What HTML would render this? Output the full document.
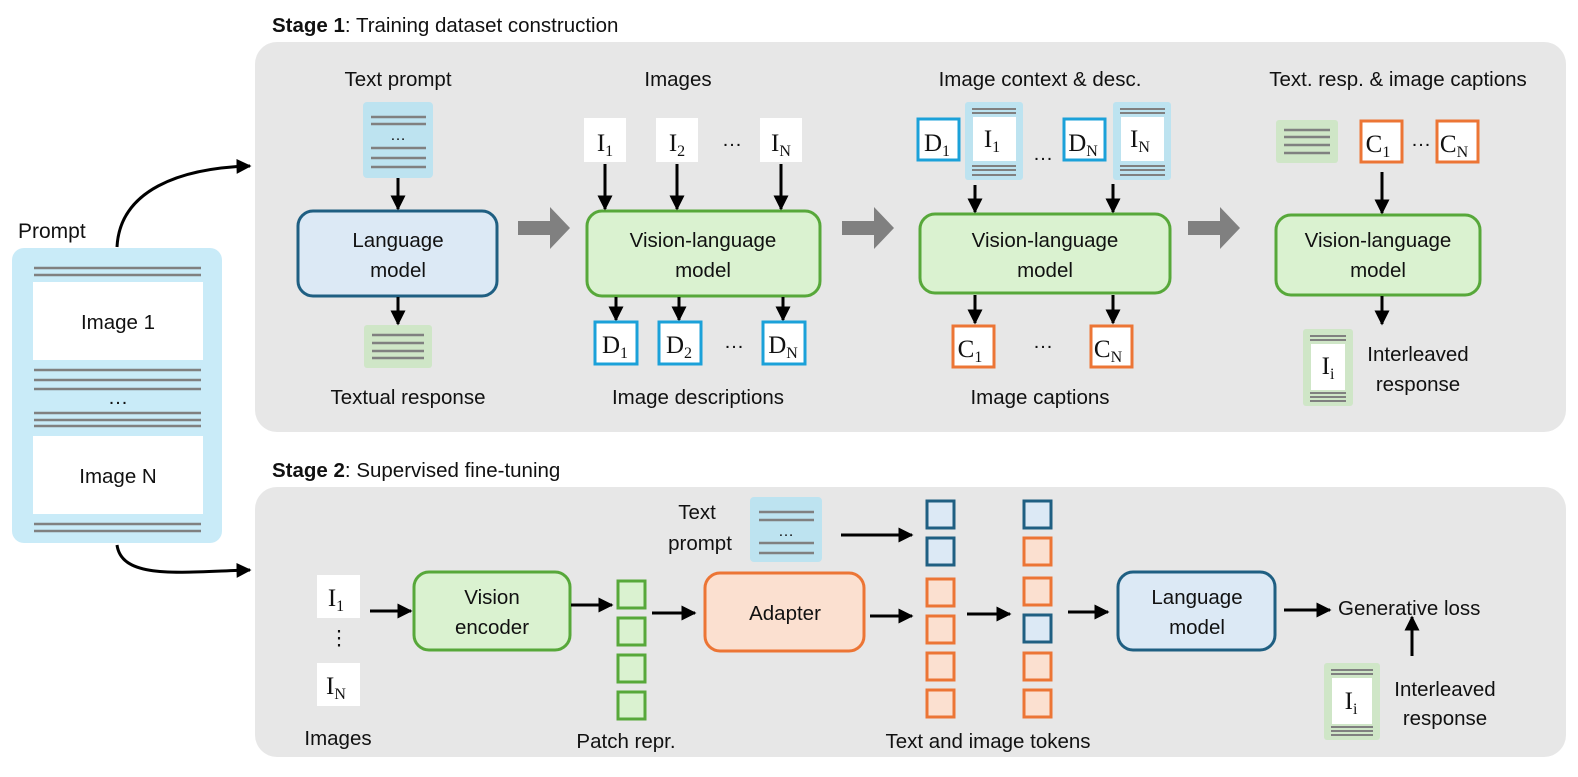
<!DOCTYPE html>
<html><head><meta charset="utf-8"><style>
body{margin:0;background:#fff}
svg{display:block}
text{font-family:"Liberation Sans",sans-serif;font-size:20.5px;fill:#111}
.c{text-anchor:middle}
.m{font-family:"Liberation Serif",serif;font-size:25px}
.s{font-size:16px}
</style></head><body>
<svg width="1578" height="777" viewBox="0 0 1578 777" xmlns="http://www.w3.org/2000/svg">
<defs>
<marker id="a" viewBox="0 0 10 10" refX="9" refY="5" markerWidth="5" markerHeight="5" orient="auto" markerUnits="strokeWidth"><path d="M0,0L10,5L0,10z" fill="#000"/></marker>
</defs>
<rect x="255" y="42" width="1311" height="390" rx="22" fill="#e7e7e7"/>
<rect x="255" y="487" width="1311" height="270" rx="22" fill="#e7e7e7"/>
<text x="272" y="32"><tspan font-weight="bold">Stage 1</tspan>: Training dataset construction</text>
<text x="272" y="477"><tspan font-weight="bold">Stage 2</tspan>: Supervised fine-tuning</text>

<text x="18" y="238" style="font-size:21px">Prompt</text>
<rect x="12" y="248" width="210" height="295" rx="12" fill="#c9ebf8"/>
<g stroke="#808080" stroke-width="2.5">
<line x1="34" y1="268" x2="201" y2="268"/><line x1="34" y1="275" x2="201" y2="275"/>
<line x1="34" y1="370" x2="201" y2="370"/><line x1="34" y1="380" x2="201" y2="380"/><line x1="34" y1="389" x2="201" y2="389"/>
<line x1="34" y1="413" x2="201" y2="413"/><line x1="34" y1="420" x2="201" y2="420"/><line x1="34" y1="426" x2="201" y2="426"/>
<line x1="34" y1="524" x2="201" y2="524"/><line x1="34" y1="531" x2="201" y2="531"/>
</g>
<rect x="33" y="282" width="170" height="78" fill="#fff"/>
<rect x="33" y="436" width="170" height="78" fill="#fff"/>
<text x="118" y="329" class="c">Image 1</text>
<text x="118" y="483" class="c">Image N</text>
<text x="118" y="404" class="c">…</text>
<path d="M117,247 C120,190 180,168 250,166" fill="none" stroke="#000" stroke-width="3" marker-end="url(#a)"/>
<path d="M117,545 C122,580 180,572 250,570" fill="none" stroke="#000" stroke-width="3" marker-end="url(#a)"/>

<text x="398" y="86" class="c">Text prompt</text>
<rect x="363" y="102" width="70" height="76" rx="4" fill="#bde3f0"/>
<g stroke="#808080" stroke-width="2.5"><line x1="371" y1="117" x2="426" y2="117"/><line x1="371" y1="124" x2="426" y2="124"/><line x1="371" y1="148" x2="426" y2="148"/><line x1="371" y1="158" x2="426" y2="158"/><line x1="371" y1="167" x2="426" y2="167"/></g>
<text x="398" y="140" class="c s">…</text>
<rect x="298" y="211" width="199" height="85" rx="15" fill="#dce9f5" stroke="#1f5f82" stroke-width="3"/>
<text x="398" y="247" class="c">Language</text><text x="398" y="277" class="c">model</text>
<rect x="364" y="325" width="68" height="43" rx="3" fill="#cfe6c7"/>
<g stroke="#808080" stroke-width="2.5"><line x1="372" y1="335" x2="424" y2="335"/><line x1="372" y1="343" x2="424" y2="343"/><line x1="372" y1="351" x2="424" y2="351"/><line x1="372" y1="358" x2="424" y2="358"/></g>
<text x="408" y="404" class="c">Textual response</text>
<g stroke="#000" stroke-width="3" marker-end="url(#a)">
<line x1="398" y1="178" x2="398" y2="209"/><line x1="398" y1="297" x2="398" y2="324"/>
</g>

<g fill="#808080">
<path d="M518,221h32v-14l20,21l-20,21v-14h-32z"/>
<path d="M842,221h32v-14l20,21l-20,21v-14h-32z"/>
<path d="M1188,221h32v-14l20,21l-20,21v-14h-32z"/>
</g>

<text x="678" y="86" class="c">Images</text>
<g fill="#fff"><rect x="584" y="118" width="42" height="44"/><rect x="656" y="118" width="42" height="44"/><rect x="760" y="118" width="42" height="44"/></g>
<text x="605" y="151" class="c m">I<tspan class="s" dy="5">1</tspan></text>
<text x="677" y="151" class="c m">I<tspan class="s" dy="5">2</tspan></text>
<text x="781" y="151" class="c m">I<tspan class="s" dy="5">N</tspan></text>
<text x="732" y="146" class="c">…</text>
<rect x="587" y="211" width="233" height="85" rx="15" fill="#daf2d0" stroke="#57a83a" stroke-width="3"/>
<text x="703" y="247" class="c">Vision-language</text><text x="703" y="277" class="c">model</text>
<g stroke="#000" stroke-width="3" marker-end="url(#a)">
<line x1="605" y1="164" x2="605" y2="209"/><line x1="677" y1="164" x2="677" y2="209"/><line x1="781" y1="164" x2="781" y2="209"/>
<line x1="616" y1="297" x2="616" y2="320"/><line x1="679" y1="297" x2="679" y2="320"/><line x1="783" y1="297" x2="783" y2="320"/>
</g>
<g fill="#fff" stroke="#1ba1d9" stroke-width="3"><rect x="595" y="322" width="42" height="42"/><rect x="659" y="322" width="42" height="42"/><rect x="763" y="322" width="42" height="42"/></g>
<text x="615" y="353" class="c m">D<tspan class="s" dy="5">1</tspan></text>
<text x="679" y="353" class="c m">D<tspan class="s" dy="5">2</tspan></text>
<text x="783" y="353" class="c m">D<tspan class="s" dy="5">N</tspan></text>
<text x="734" y="348" class="c">…</text>
<text x="698" y="404" class="c">Image descriptions</text>

<text x="1040" y="86" class="c">Image context &amp; desc.</text>
<g fill="#fff" stroke="#1ba1d9" stroke-width="3"><rect x="918" y="119" width="41" height="41"/><rect x="1064" y="119" width="41" height="41"/></g>
<text x="937" y="151" class="c m">D<tspan class="s" dy="5">1</tspan></text>
<text x="1083" y="151" class="c m">D<tspan class="s" dy="5">N</tspan></text>
<rect x="965" y="102" width="58" height="78" rx="3" fill="#bde3f0"/>
<rect x="1113" y="102" width="58" height="78" rx="3" fill="#bde3f0"/>
<g stroke="#808080" stroke-width="2"><line x1="972" y1="109" x2="1016" y2="109"/><line x1="972" y1="113" x2="1016" y2="113"/><line x1="972" y1="166" x2="1016" y2="166"/><line x1="972" y1="170" x2="1016" y2="170"/><line x1="972" y1="175" x2="1016" y2="175"/>
<line x1="1120" y1="109" x2="1165" y2="109"/><line x1="1120" y1="113" x2="1165" y2="113"/><line x1="1120" y1="166" x2="1165" y2="166"/><line x1="1120" y1="170" x2="1165" y2="170"/><line x1="1120" y1="175" x2="1165" y2="175"/></g>
<rect x="973" y="117" width="43" height="44" fill="#fff"/><rect x="1121" y="117" width="43" height="44" fill="#fff"/>
<text x="992" y="147" class="c m">I<tspan class="s" dy="5">1</tspan></text>
<text x="1140" y="147" class="c m">I<tspan class="s" dy="5">N</tspan></text>
<text x="1043" y="160" class="c">…</text>
<rect x="920" y="214" width="250" height="79" rx="15" fill="#daf2d0" stroke="#57a83a" stroke-width="3"/>
<text x="1045" y="247" class="c">Vision-language</text><text x="1045" y="277" class="c">model</text>
<g stroke="#000" stroke-width="3" marker-end="url(#a)">
<line x1="975" y1="185" x2="975" y2="212"/><line x1="1113" y1="184" x2="1113" y2="212"/>
<line x1="975" y1="295" x2="975" y2="323"/><line x1="1113" y1="295" x2="1113" y2="323"/>
</g>
<g fill="#fff" stroke="#ec7535" stroke-width="3"><rect x="953" y="326" width="41" height="41"/><rect x="1091" y="326" width="41" height="41"/></g>
<text x="970" y="357" class="c m">C<tspan class="s" dy="5">1</tspan></text>
<text x="1108" y="357" class="c m">C<tspan class="s" dy="5">N</tspan></text>
<text x="1043" y="348" class="c">…</text>
<text x="1040" y="404" class="c">Image captions</text>

<text x="1398" y="86" class="c">Text. resp. &amp; image captions</text>
<rect x="1276" y="120" width="62" height="43" rx="3" fill="#cfe6c7"/>
<g stroke="#808080" stroke-width="2.5"><line x1="1284" y1="130" x2="1330" y2="130"/><line x1="1284" y1="137" x2="1330" y2="137"/><line x1="1284" y1="145" x2="1330" y2="145"/><line x1="1284" y1="153" x2="1330" y2="153"/></g>
<g fill="#fff" stroke="#ec7535" stroke-width="3"><rect x="1361" y="121" width="41" height="41"/><rect x="1437" y="121" width="41" height="41"/></g>
<text x="1378" y="152" class="c m">C<tspan class="s" dy="5">1</tspan></text>
<text x="1454" y="152" class="c m">C<tspan class="s" dy="5">N</tspan></text>
<text x="1421" y="146" class="c">…</text>
<rect x="1276" y="215" width="204" height="80" rx="15" fill="#daf2d0" stroke="#57a83a" stroke-width="3"/>
<text x="1378" y="247" class="c">Vision-language</text><text x="1378" y="277" class="c">model</text>
<g stroke="#000" stroke-width="3" marker-end="url(#a)">
<line x1="1382" y1="172" x2="1382" y2="213"/><line x1="1382" y1="296" x2="1382" y2="324"/>
</g>
<rect x="1303" y="329" width="50" height="77" rx="3" fill="#cfe6c7"/>
<g stroke="#808080" stroke-width="2"><line x1="1310" y1="336" x2="1346" y2="336"/><line x1="1310" y1="340" x2="1346" y2="340"/><line x1="1310" y1="393" x2="1346" y2="393"/><line x1="1310" y1="397" x2="1346" y2="397"/><line x1="1310" y1="401" x2="1346" y2="401"/></g>
<rect x="1311" y="344" width="34" height="46" fill="#fff"/>
<text x="1328" y="374" class="c m">I<tspan class="s" dy="5">i</tspan></text>
<text x="1418" y="361" class="c">Interleaved</text><text x="1418" y="391" class="c">response</text>

<!-- stage 2 -->
<rect x="317" y="575" width="43" height="43" fill="#fff"/>
<rect x="317" y="663" width="43" height="43" fill="#fff"/>
<text x="336" y="606" class="c m">I<tspan class="s" dy="5">1</tspan></text>
<text x="339" y="645" class="c">⋮</text>
<text x="336" y="694" class="c m">I<tspan class="s" dy="5">N</tspan></text>
<text x="338" y="745" class="c">Images</text>
<rect x="414" y="572" width="156" height="78" rx="15" fill="#daf2d0" stroke="#57a83a" stroke-width="3"/>
<text x="492" y="604" class="c">Vision</text><text x="492" y="634" class="c">encoder</text>
<g fill="#daf2d0" stroke="#57a83a" stroke-width="3">
<rect x="618" y="581" width="27" height="27"/><rect x="618" y="618" width="27" height="27"/><rect x="618" y="655" width="27" height="27"/><rect x="618" y="692" width="27" height="27"/>
</g>
<text x="626" y="748" class="c">Patch repr.</text>
<rect x="705" y="573" width="159" height="78" rx="15" fill="#fbe0d0" stroke="#ec7535" stroke-width="3"/>
<text x="785" y="620" class="c">Adapter</text>
<text x="697" y="519" class="c">Text</text><text x="700" y="550" class="c">prompt</text>
<rect x="750" y="497" width="72" height="65" rx="4" fill="#bde3f0"/>
<g stroke="#808080" stroke-width="2.5"><line x1="759" y1="512" x2="814" y2="512"/><line x1="759" y1="520" x2="814" y2="520"/><line x1="759" y1="543" x2="814" y2="543"/><line x1="759" y1="553" x2="814" y2="553"/></g>
<text x="786" y="536" class="c s">…</text>
<g stroke-width="3">
<rect x="927" y="501" width="27" height="27" fill="#dce9f5" stroke="#1f5f82"/>
<rect x="927" y="538" width="27" height="27" fill="#dce9f5" stroke="#1f5f82"/>
<rect x="927" y="579" width="27" height="27" fill="#fbe0d0" stroke="#ec7535"/>
<rect x="927" y="616" width="27" height="27" fill="#fbe0d0" stroke="#ec7535"/>
<rect x="927" y="653" width="27" height="27" fill="#fbe0d0" stroke="#ec7535"/>
<rect x="927" y="690" width="27" height="27" fill="#fbe0d0" stroke="#ec7535"/>
<rect x="1024" y="501" width="27" height="27" fill="#dce9f5" stroke="#1f5f82"/>
<rect x="1024" y="538" width="27" height="27" fill="#fbe0d0" stroke="#ec7535"/>
<rect x="1024" y="578" width="27" height="27" fill="#fbe0d0" stroke="#ec7535"/>
<rect x="1024" y="615" width="27" height="27" fill="#dce9f5" stroke="#1f5f82"/>
<rect x="1024" y="653" width="27" height="27" fill="#fbe0d0" stroke="#ec7535"/>
<rect x="1024" y="690" width="27" height="27" fill="#fbe0d0" stroke="#ec7535"/>
</g>
<text x="988" y="748" class="c">Text and image tokens</text>
<rect x="1118" y="572" width="157" height="78" rx="15" fill="#dce9f5" stroke="#1f5f82" stroke-width="3"/>
<text x="1197" y="604" class="c">Language</text><text x="1197" y="634" class="c">model</text>
<text x="1338" y="615">Generative loss</text>
<rect x="1324" y="663" width="56" height="77" rx="3" fill="#cfe6c7"/>
<g stroke="#808080" stroke-width="2"><line x1="1331" y1="670" x2="1373" y2="670"/><line x1="1331" y1="674" x2="1373" y2="674"/><line x1="1331" y1="727" x2="1373" y2="727"/><line x1="1331" y1="731" x2="1373" y2="731"/><line x1="1331" y1="735" x2="1373" y2="735"/></g>
<rect x="1332" y="678" width="40" height="46" fill="#fff"/>
<text x="1351" y="709" class="c m">I<tspan class="s" dy="5">i</tspan></text>
<text x="1445" y="696" class="c">Interleaved</text><text x="1445" y="725" class="c">response</text>
<g stroke="#000" stroke-width="3" marker-end="url(#a)">
<line x1="370" y1="611" x2="411" y2="611"/>
<line x1="571" y1="605" x2="612" y2="605"/>
<line x1="652" y1="613" x2="695" y2="613"/>
<line x1="841" y1="535" x2="912" y2="535"/>
<line x1="870" y1="616" x2="912" y2="616"/>
<line x1="967" y1="614" x2="1010" y2="614"/>
<line x1="1068" y1="612" x2="1108" y2="612"/>
<line x1="1284" y1="610" x2="1330" y2="610"/>
<line x1="1412" y1="656" x2="1412" y2="617"/>
</g>
</svg>
</body></html>
